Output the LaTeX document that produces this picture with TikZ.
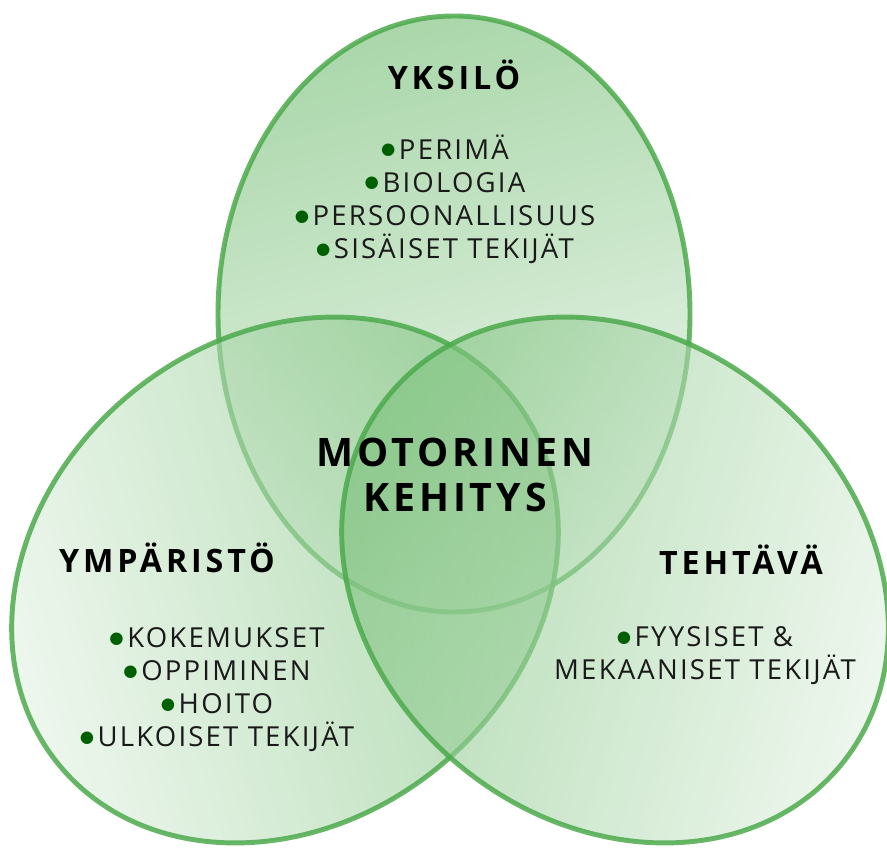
\documentclass[tikz,border=0pt]{standalone}
\usepackage{fontspec}
\setmainfont{Open Sans}
\newfontfamily\dotfont{DejaVu Sans}
\definecolor{venngreen}{RGB}{76,170,76}
\definecolor{dotgreen}{RGB}{0,95,0}
\definecolor{textgray}{RGB}{25,25,25}
\newcommand{\dotitem}{\raisebox{3.6pt}{\dotfont\fontsize{14}{14}\selectfont\textcolor{dotgreen}{●}}\hspace{3pt}}

\begin{document}
\begin{tikzpicture}[x=0.03cm, y=-0.03cm,
	venn/.style={draw=venngreen, draw opacity=0.85, line width=4.2pt, fill opacity=0.6, top color=venngreen!78, bottom color=venngreen!14},
	head/.style={font=\fontsize{27.5}{30}\selectfont\bfseries\addfontfeature{LetterSpace=12}, text=black},
	center/.style={font=\fontsize{33.5}{38.5}\selectfont\bfseries\addfontfeature{LetterSpace=10}, text=black, align=center},
	list/.style={font=\fontsize{23.5}{28.2}\selectfont\addfontfeature{LetterSpace=8}, text=textgray, align=center}]
	\useasboundingbox (0,0) rectangle (887,850);
	% the three sets
	\draw[venn, shading angle=15] (454,314) ellipse [x radius=236, y radius=298];
	\draw[venn, shading angle=-74, shift={(285,580)}, rotate=39] (0,0) ellipse [x radius=292, y radius=242];
	\draw[venn, shading angle=74, shift={(615,580)}, rotate=-39] (0,0) ellipse [x radius=292, y radius=242];
	% texts
	\node[head] (yksilo) at (454,75) {YKSILÖ};
	\node[list] (yksilolist) at (445,199) {\dotitem PERIMÄ\\ \dotitem BIOLOGIA\\ \dotitem PERSOONALLISUUS\\ \dotitem SISÄISET TEKIJÄT};
	\node[head] (ymparisto) at (167,558) {YMPÄRISTÖ};
	\node[list] (ymparistolist) at (217,690) {\dotitem KOKEMUKSET\\ \dotitem OPPIMINEN\\ \dotitem HOITO\\ \dotitem ULKOISET TEKIJÄT};
	\node[head] (tehtava) at (741,560) {TEHTÄVÄ};
	\node[list] (tehtavalist) at (705,656) {\dotitem FYYSISET \&\\ MEKAANISET TEKIJÄT};
	\node[center] (kehitys) at (455,475) {MOTORINEN\\ KEHITYS};
\end{tikzpicture}
\end{document}
